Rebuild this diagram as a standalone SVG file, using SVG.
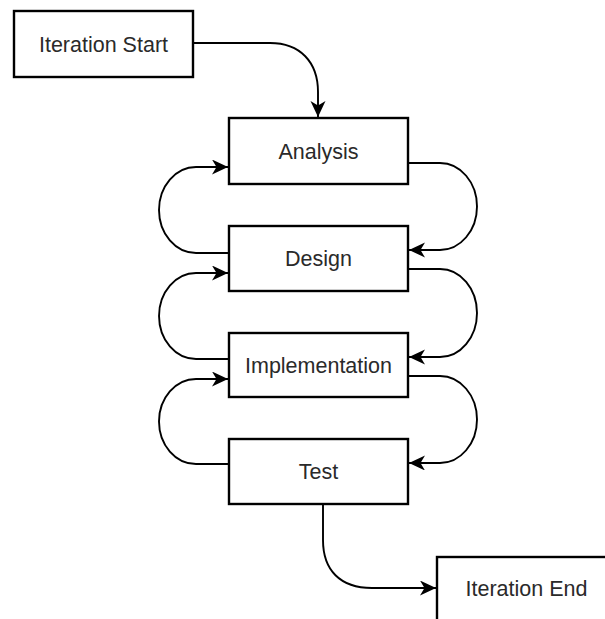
<svg xmlns="http://www.w3.org/2000/svg" width="605" height="619" viewBox="0 0 605 619">
<style>
.box{fill:#fff;stroke:#000;stroke-width:2.4}
.lbl{font-family:"Liberation Sans",Arial,sans-serif;font-size:21.5px;fill:#2a2a2a;text-anchor:middle}
.edge{fill:none;stroke:#000;stroke-width:1.9;marker-end:url(#arr)}
</style>
<defs>
<marker id="arr" markerUnits="userSpaceOnUse" markerWidth="18" markerHeight="16" refX="16" refY="7.5" orient="auto">
<path d="M0,0 L16,7.5 L0,15 L4.5,7.5 z" fill="#000"/>
</marker>
</defs>
<rect width="605" height="619" fill="#fff"/>
<g id="edges">
<path class="edge" d="M193,43 H270 C300,43 318,62 318,92 V117"/>
<path class="edge" d="M408,163 H440 A37,43.5 0 0 1 440,250 H409"/>
<path class="edge" d="M229,253 H196 A37,43 0 0 1 196,167 H228"/>
<path class="edge" d="M408,269 H440 A37,44 0 0 1 440,357 H409"/>
<path class="edge" d="M229,359 H196 A37,43 0 0 1 196,273 H228"/>
<path class="edge" d="M408,376 H440 A37,43.5 0 0 1 440,463 H409"/>
<path class="edge" d="M229,464 H196 A37,42.5 0 0 1 196,379 H228"/>
<path class="edge" d="M323,505 V540 C323,570 340,588 372,588 H436"/>
</g>
<g id="n-start"><rect class="box" x="14" y="11" width="179" height="66"/><text class="lbl" x="103.5" y="51.5">Iteration Start</text></g>
<g id="n-analysis"><rect class="box" x="229" y="118" width="179" height="66"/><text class="lbl" x="318.5" y="158.5">Analysis</text></g>
<g id="n-design"><rect class="box" x="229" y="226" width="179" height="65"/><text class="lbl" x="318.5" y="266">Design</text></g>
<g id="n-impl"><rect class="box" x="229" y="333" width="179" height="64"/><text class="lbl" x="318.5" y="372.5">Implementation</text></g>
<g id="n-test"><rect class="box" x="229" y="439" width="179" height="65"/><text class="lbl" x="318.5" y="479">Test</text></g>
<g id="n-end"><rect class="box" x="437" y="557" width="179" height="66"/><text class="lbl" x="526.5" y="595.5">Iteration End</text></g>
</svg>
